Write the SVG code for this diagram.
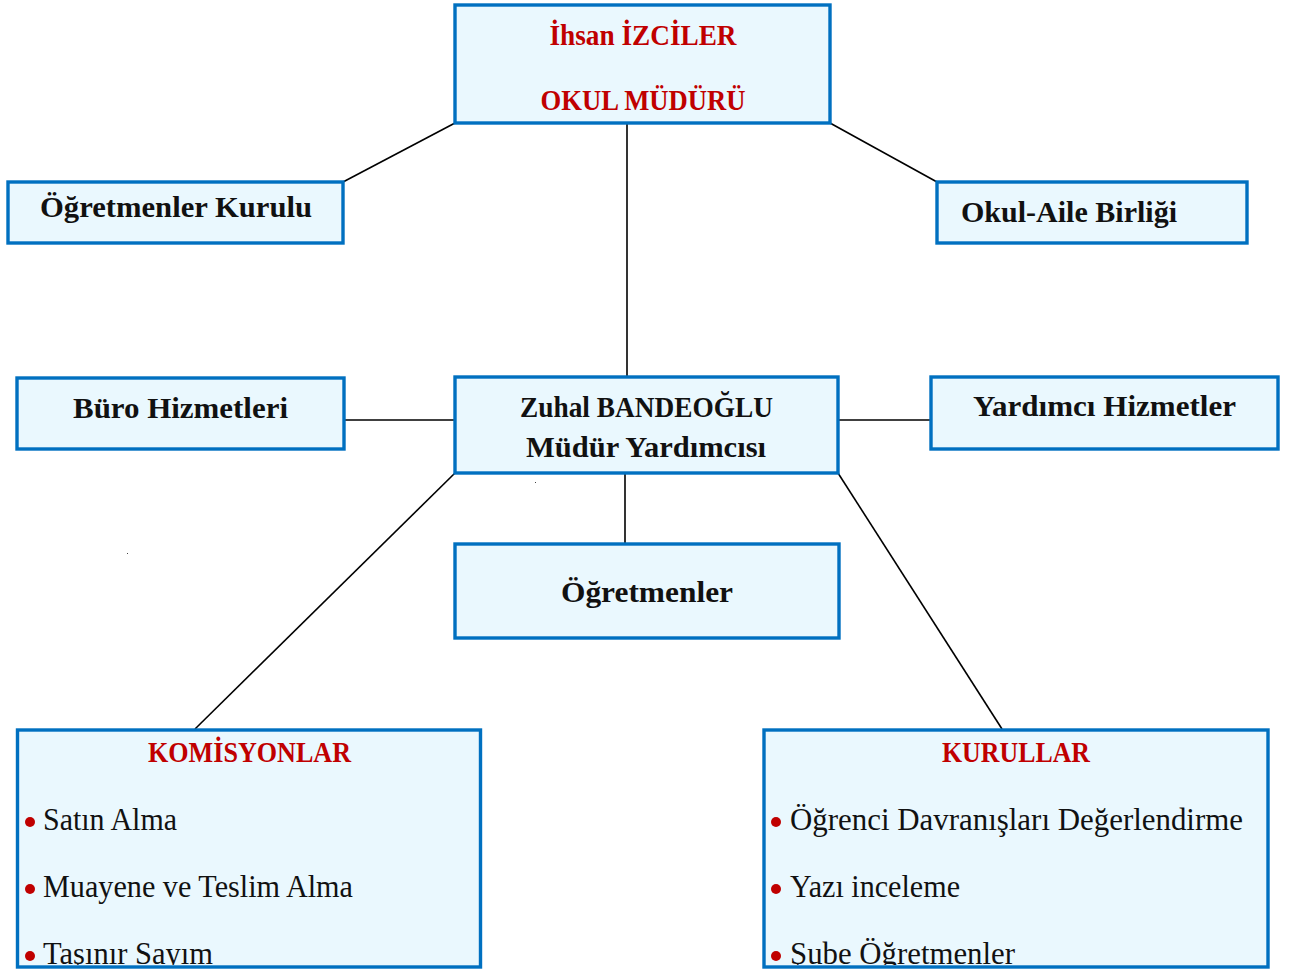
<svg xmlns="http://www.w3.org/2000/svg" width="1290" height="971" viewBox="0 0 1290 971">
<style>
.box{fill:#EAF8FE;stroke:#0070C0;stroke-width:3.4}
.t{font-family:"Liberation Serif","DejaVu Serif",serif;font-weight:bold;font-size:30px;fill:#111}
.r{fill:#C00000}
.it{font-family:"Liberation Serif","DejaVu Serif",serif;font-size:31px;fill:#111}
.dot{fill:#C00000}
.ln{stroke:#000;stroke-width:1.6;fill:none}
</style>
<defs>
<clipPath id="clipK"><rect x="19" y="731" width="460" height="234"/></clipPath>
<clipPath id="clipR"><rect x="766" y="731" width="500" height="234"/></clipPath>
</defs>
<g id="connectors">
<line class="ln" x1="455" y1="123" x2="343" y2="182"/>
<line class="ln" x1="830" y1="123" x2="937" y2="182"/>
<line class="ln" x1="627" y1="123" x2="627" y2="377"/>
<line class="ln" x1="344" y1="420" x2="455" y2="420"/>
<line class="ln" x1="838" y1="420" x2="931" y2="420"/>
<line class="ln" x1="625" y1="473" x2="625" y2="544"/>
<line class="ln" x1="455" y1="473" x2="195" y2="729"/>
<line class="ln" x1="838" y1="473" x2="1002" y2="729"/>
</g>
<g id="mudur">
<rect class="box" x="455" y="5" width="375" height="118"/>
<text class="t r" x="643" y="45" text-anchor="middle" textLength="187" lengthAdjust="spacingAndGlyphs">İhsan İZCİLER</text>
<text class="t r" x="643" y="110" text-anchor="middle" textLength="205" lengthAdjust="spacingAndGlyphs">OKUL MÜDÜRÜ</text>
</g>
<g id="ogretmenler-kurulu">
<rect class="box" x="8" y="182" width="335" height="61"/>
<text class="t" x="40" y="217" textLength="272" lengthAdjust="spacingAndGlyphs">Öğretmenler Kurulu</text>
</g>
<g id="okul-aile">
<rect class="box" x="937" y="182" width="310" height="61"/>
<text class="t" x="961" y="222" textLength="216" lengthAdjust="spacingAndGlyphs">Okul-Aile Birliği</text>
</g>
<g id="buro">
<rect class="box" x="17" y="378" width="327" height="71"/>
<text class="t" x="73" y="418" textLength="215" lengthAdjust="spacingAndGlyphs">Büro Hizmetleri</text>
</g>
<g id="mudur-yardimcisi">
<rect class="box" x="455" y="377" width="383" height="96"/>
<text class="t" x="520" y="417" textLength="253" lengthAdjust="spacingAndGlyphs">Zuhal BANDEOĞLU</text>
<text class="t" x="526" y="457" textLength="240" lengthAdjust="spacingAndGlyphs">Müdür Yardımcısı</text>
</g>
<g id="yardimci">
<rect class="box" x="931" y="377" width="347" height="72"/>
<text class="t" x="973" y="416" textLength="263" lengthAdjust="spacingAndGlyphs">Yardımcı Hizmetler</text>
</g>
<g id="ogretmenler">
<rect class="box" x="455" y="544" width="384" height="94"/>
<text class="t" x="561" y="602" textLength="172" lengthAdjust="spacingAndGlyphs">Öğretmenler</text>
</g>
<g id="komisyonlar">
<rect class="box" x="17.5" y="730" width="463" height="237"/>
<text class="t r" x="148" y="762" textLength="203" lengthAdjust="spacingAndGlyphs">KOMİSYONLAR</text>
<g clip-path="url(#clipK)">
<circle class="dot" cx="30" cy="822" r="5"/>
<text class="it" x="43" y="830" textLength="134" lengthAdjust="spacingAndGlyphs">Satın Alma</text>
<circle class="dot" cx="30" cy="889" r="5"/>
<text class="it" x="43" y="897" textLength="310" lengthAdjust="spacingAndGlyphs">Muayene ve Teslim Alma</text>
<circle class="dot" cx="30" cy="956" r="5"/>
<text class="it" x="43" y="964" textLength="170" lengthAdjust="spacingAndGlyphs">Taşınır Sayım</text>
</g>
</g>
<g id="kurullar">
<rect class="box" x="764" y="730" width="504" height="237"/>
<text class="t r" x="942" y="762" textLength="148" lengthAdjust="spacingAndGlyphs">KURULLAR</text>
<g clip-path="url(#clipR)">
<circle class="dot" cx="776" cy="822" r="5"/>
<text class="it" x="790" y="830" textLength="453" lengthAdjust="spacingAndGlyphs">Öğrenci Davranışları Değerlendirme</text>
<circle class="dot" cx="776" cy="889" r="5"/>
<text class="it" x="790" y="897" textLength="170" lengthAdjust="spacingAndGlyphs">Yazı inceleme</text>
<circle class="dot" cx="776" cy="956" r="5"/>
<text class="it" x="790" y="964" textLength="225" lengthAdjust="spacingAndGlyphs">Şube Öğretmenler</text>
</g>
</g>
<rect x="535" y="482" width="1" height="1" fill="#444"/>
<rect x="127" y="553" width="1" height="1" fill="#444"/>
</svg>
